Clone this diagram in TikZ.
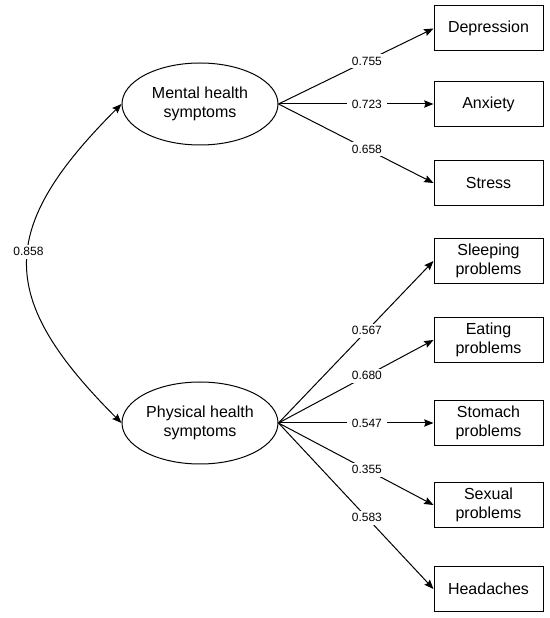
\documentclass[tikz,border=0pt]{standalone}
\usepackage{fontspec}
\setmainfont{Liberation Sans}
\usetikzlibrary{arrows.meta,positioning,shapes.geometric}

\begin{document}
\begin{tikzpicture}[
  x=0.75pt, y=0.75pt,
  latent/.style={draw, ellipse, line width=0.75pt, inner sep=0pt,
                 minimum width=117pt, minimum height=61.5pt,
                 align=center, font=\fontsize{12}{14.5}\selectfont},
  item/.style={draw, rectangle, line width=0.75pt,
               minimum width=81.75pt, minimum height=33.75pt,
               align=center, font=\fontsize{12}{14.5}\selectfont},
  load/.style={fill=white, inner xsep=4pt, inner ysep=2pt, font=\fontsize{9}{10}\selectfont},
  path/.style={-{Stealth[length=7pt, width=5.5pt, inset=1pt]}, line width=0.75pt},
]
\useasboundingbox (0,0) rectangle (550,618);

% Factors
\node[latent] (mental)   at (200,514) {Mental health\\symptoms};
\node[latent] (physical) at (200,195) {Physical health\\symptoms};

% Indicators
\node[item] (dep)   at (488.5,589.5) {Depression};
\node[item] (anx)   at (488.5,514)   {Anxiety};
\node[item] (str)   at (488.5,435)   {Stress};
\node[item] (sleep) at (488.5,357)   {Sleeping\\problems};
\node[item] (eat)   at (488.5,278)   {Eating\\problems};
\node[item] (stom)  at (488.5,195)   {Stomach\\problems};
\node[item] (sex)   at (488.5,113)   {Sexual\\problems};
\node[item] (head)  at (488.5,29)    {Headaches};

% Loadings
\draw[path] (mental.east) -- node[load, pos=0.57] {0.755} (dep.west);
\draw[path] (mental.east) -- node[load, pos=0.57] {0.723} (anx.west);
\draw[path] (mental.east) -- node[load, pos=0.57] {0.658} (str.west);

\draw[path] (physical.east) -- node[load, pos=0.57] {0.567} (sleep.west);
\draw[path] (physical.east) -- node[load, pos=0.57] {0.680} (eat.west);
\draw[path] (physical.east) -- node[load, pos=0.57] {0.547} (stom.west);
\draw[path] (physical.east) -- node[load, pos=0.57] {0.355} (sex.west);
\draw[path] (physical.east) -- node[load, pos=0.57] {0.583} (head.west);

% Correlation
\draw[{Stealth[length=7pt, width=5.5pt, inset=1pt]}-{Stealth[length=7pt, width=5.5pt, inset=1pt]}, line width=0.75pt]
  (mental.west) to[out=225, in=135, looseness=1.42]
  node[load, pos=0.46] {0.858} (physical.west);

\end{tikzpicture}
\end{document}
